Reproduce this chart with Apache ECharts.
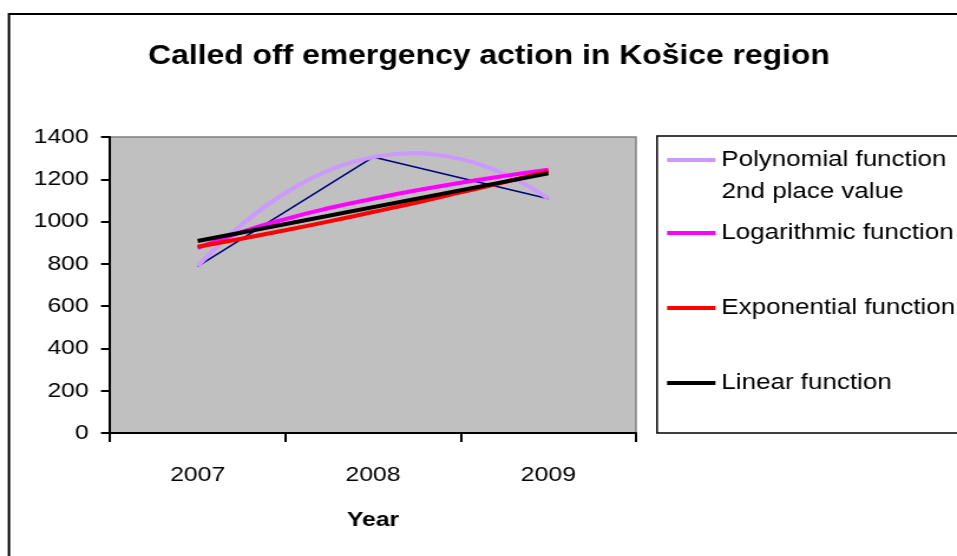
<!DOCTYPE html>
<html>
<head>
<meta charset="utf-8">
<script src="https://cdn.jsdelivr.net/npm/echarts@6/dist/echarts.min.js"></script>
<style>
html,body{margin:0;padding:0;background:#fff;overflow:hidden;}
#main{width:811px;height:556px;transform:scaleX(1.18);transform-origin:0 0;}
</style>
</head>
<body>
<div id="main"></div>
<script>
// ---- data ----
const years = ['2007', '2008', '2009'];
const actions = [788, 1305, 1108];

// trendlines: x in category units (1 = 2007, 2 = 2008, 3 = 2009)
const polyX = [1, 1.125, 1.25, 1.375, 1.5, 1.625, 1.75, 1.875, 2, 2.125, 2.25, 2.375, 2.5, 2.625, 2.75, 2.875, 3];
const polyY = [790, 892, 984, 1066, 1136, 1195, 1243, 1279, 1305, 1319, 1323, 1315, 1296, 1266, 1224, 1172, 1108];
const logX = [1, 1.25, 1.5, 1.75, 2, 2.25, 2.5, 2.75, 3];
const logY = [875, 950, 1012, 1064, 1108, 1148, 1184, 1216, 1245];
const expX = [1, 1.25, 1.5, 1.75, 2, 2.25, 2.5, 2.75, 3];
const expY = [881, 919, 959, 1001, 1045, 1090, 1138, 1187, 1239];
const linX = [1, 3];
const linY = [908, 1228];

const yTicks = [0, 200, 400, 600, 800, 1000, 1200, 1400];

const names = ['Polynomial function 2nd place value', 'Logarithmic function', 'Exponential function', 'Linear function'];
const colors = ['#CC99FF', '#FF00FF', '#FF0000', '#000000'];

const FONT = '"Liberation Sans", Arial, sans-serif';
const pairs = (xs, ys) => xs.map((x, i) => [x, ys[i]]);

const chart = echarts.init(document.getElementById('main'), null, {renderer: 'canvas'});

const legendCenters = [160, 233, 308, 383];
const legends = names.map((n, i) => ({
  data: [n],
  left: 565.3,
  top: legendCenters[i] - 11,
  padding: 0,
  itemWidth: 41,
  itemHeight: 4,
  icon: 'rect',
  selectedMode: false,
  formatter: (name) => name === names[0] ? 'Polynomial function' : name,
  textStyle: {fontFamily: FONT, fontSize: 22, color: '#000'}
}));

const option = {
  backgroundColor: '#ffffff',
  animation: false,
  title: {
    text: 'Called off emergency action in Košice region',
    left: 414.4,
    top: 43,
    padding: 0,
    textAlign: 'center',
    textStyle: {fontFamily: FONT, fontSize: 27, fontWeight: 'bold', color: '#000'}
  },
  legend: legends,
  grid: {
    left: 93.2, top: 137, width: 445.8, height: 296,
    show: true, backgroundColor: '#C0C0C0', borderColor: '#808080', borderWidth: 1.5,
    containLabel: false
  },
  xAxis: [{
    type: 'category',
    data: years,
    boundaryGap: true,
    axisLine: {lineStyle: {color: '#000', width: 2}},
    axisTick: {show: true, length: 9, lineStyle: {color: '#000', width: 2}},
    axisLabel: {fontFamily: FONT, fontSize: 21, color: '#000', margin: 32},
    splitLine: {show: false},
    name: 'Year',
    nameLocation: 'middle',
    nameGap: 77,
    nameTextStyle: {fontFamily: FONT, fontSize: 21, fontWeight: 'bold', color: '#000'}
  }, {
    type: 'value',
    min: 0.5,
    max: 3.5,
    show: false
  }],
  yAxis: {
    type: 'value',
    min: yTicks[0],
    max: yTicks[yTicks.length - 1],
    interval: yTicks[1] - yTicks[0],
    axisLine: {show: true, lineStyle: {color: '#000', width: 2}},
    axisTick: {show: true, length: 7.6, lineStyle: {color: '#000', width: 2}},
    axisLabel: {fontFamily: FONT, fontSize: 21, color: '#000', margin: 18, formatter: (v) => String(v)},
    splitLine: {show: false}
  },
  graphic: [
    {type: 'rect', z: 0, shape: {x: 7.6, y: 14, width: 1000, height: 1000}, style: {fill: 'none', stroke: '#000', lineWidth: 2}},
    {type: 'rect', z: 0, shape: {x: 556.8, y: 136, width: 400, height: 297}, style: {fill: 'none', stroke: '#000', lineWidth: 1.5}},
    {type: 'text', z: 10, x: 611.6, y: 192, style: {text: '2nd place value', font: '22px ' + FONT, fill: '#000', verticalAlign: 'middle', align: 'left'}}
  ],
  series: [
    {
      name: 'Called off emergency actions',
      type: 'line',
      xAxisIndex: 0,
      data: actions,
      showSymbol: false,
      lineStyle: {color: '#000080', width: 1.5},
      itemStyle: {color: '#000080'},
      z: 2
    },
    {name: names[0], type: 'line', xAxisIndex: 1, data: pairs(polyX, polyY), smooth: true, showSymbol: false, lineStyle: {color: colors[0], width: 4}, itemStyle: {color: colors[0]}, z: 3},
    {name: names[1], type: 'line', xAxisIndex: 1, data: pairs(logX, logY), smooth: true, showSymbol: false, lineStyle: {color: colors[1], width: 4}, itemStyle: {color: colors[1]}, z: 4},
    {name: names[2], type: 'line', xAxisIndex: 1, data: pairs(expX, expY), smooth: true, showSymbol: false, lineStyle: {color: colors[2], width: 4}, itemStyle: {color: colors[2]}, z: 5},
    {name: names[3], type: 'line', xAxisIndex: 1, data: pairs(linX, linY), showSymbol: false, lineStyle: {color: colors[3], width: 4}, itemStyle: {color: colors[3]}, z: 6}
  ]
};
chart.setOption(option);
</script>
</body>
</html>
